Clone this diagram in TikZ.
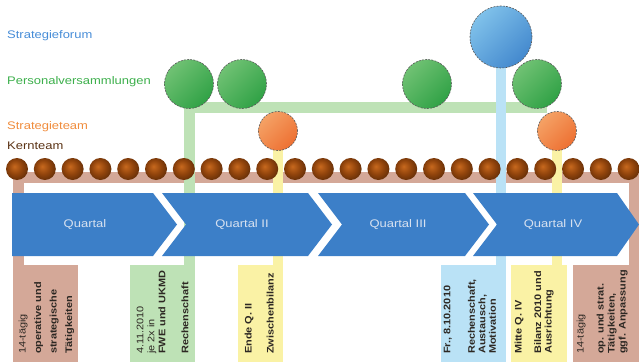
\documentclass[tikz,border=0pt]{standalone}
\usepackage{fontspec}
\setmainfont{Liberation Sans}
\newfontfamily\lblfont{Liberation Sans}[FakeStretch=1.18]
\newfontfamily\boxfont{Liberation Sans}[FakeStretch=1.15]
\usetikzlibrary{backgrounds,shadings}
\definecolor{cforum}{RGB}{70,140,215}
\definecolor{cpers}{RGB}{60,175,75}
\definecolor{cteam}{RGB}{240,140,60}
\definecolor{ckern}{RGB}{90,50,20}
\definecolor{arrowc}{RGB}{60,127,200}
\definecolor{qtext}{RGB}{215,225,240}
\definecolor{sgreen}{RGB}{190,226,182}
\definecolor{sblue}{RGB}{186,226,246}
\definecolor{syellow}{RGB}{250,242,165}
\definecolor{sbrown}{RGB}{212,168,152}
\definecolor{bluelt}{RGB}{140,205,240}
\definecolor{bluedk}{RGB}{55,125,200}
\definecolor{greenlt}{RGB}{125,200,125}
\definecolor{greendk}{RGB}{35,155,60}
\definecolor{orangelt}{RGB}{246,172,112}
\definecolor{orangedk}{RGB}{236,102,40}
\definecolor{kin}{RGB}{200,105,30}
\definecolor{kmid}{RGB}{145,68,12}
\definecolor{kout}{RGB}{55,25,5}
\definecolor{btxt}{RGB}{45,40,35}
\pgfdeclareradialshading{kernball}{\pgfpoint{-6bp}{6bp}}{color(0bp)=(kin); color(16bp)=(kmid); color(42bp)=(kout); color(50bp)=(kout)}
\begin{document}
\begin{tikzpicture}[x=1pt,y=-1pt,
  lbl/.style={font=\lblfont\fontsize{11}{13}\selectfont, anchor=west, inner sep=0, text height=8pt, text depth=2.3pt},
  qlbl/.style={font=\lblfont\fontsize{11}{13}\selectfont, text=qtext, inner sep=0},
  pcirc/.style={circle, draw=black!65, dash pattern=on 2pt off 1.2pt, line width=0.6pt, inner sep=0, shade},
  forum/.style={pcirc, minimum size=62pt, upper left=bluelt, upper right=bluelt!50!bluedk, lower left=bluelt!50!bluedk, lower right=bluedk},
  pers/.style={pcirc, minimum size=49pt, upper left=greenlt, upper right=greenlt!50!greendk, lower left=greenlt!50!greendk, lower right=greendk},
  team/.style={pcirc, minimum size=39pt, upper left=orangelt, upper right=orangelt!50!orangedk, lower left=orangelt!50!orangedk, lower right=orangedk},
  kball/.style={circle, minimum size=22pt, inner sep=0, shading=kernball, shade},
  boxn/.style={anchor=north west, minimum height=97pt, inner sep=0, outer sep=0},
  btext/.style={rotate=90, anchor=north west, inner sep=0, align=left, text=btxt, font=\boxfont\fontsize{9.5}{11}\selectfont},
  strip/.style={line width=#1, line join=miter, line cap=butt},
  quart/.style={fill=arrowc}
]
\useasboundingbox (0,0) rectangle (639,361);

% labels
\node[lbl, text=cforum] (lforum) at (7,36) {Strategieforum};
\node[lbl, text=cpers] (lpers) at (7,82) {Personalversammlungen};
\node[lbl, text=cteam] (lteam) at (7,126.5) {Strategieteam};
\node[lbl, text=ckern] (lkern) at (7,147) {Kernteam};

% bottom boxes
\node[boxn, fill=sbrown, minimum width=65pt] (b1) at (13,265) {};
\node[boxn, fill=sgreen, minimum width=65pt] (b2) at (130,265) {};
\node[boxn, fill=syellow, minimum width=45pt] (b3) at (238,265) {};
\node[boxn, fill=sblue, minimum width=65pt] (b4) at (441,265) {};
\node[boxn, fill=syellow, minimum width=56pt] (b5) at (511,265) {};
\node[boxn, fill=sbrown, minimum width=66pt] (b6) at (573,265) {};

% circles
\node[forum] (sf) at (501,37) {};
\node[pers] (pv1) at (189,84) {};
\node[pers] (pv2) at (242,84) {};
\node[pers] (pv3) at (427,84) {};
\node[pers] (pv4) at (537,84) {};
\node[team] (st1) at (278,131) {};
\node[team] (st2) at (557,131) {};

% kernteam balls
\foreach \i in {0,...,22} \node[kball] (k\i) at ({17+27.8*\i},169) {};

\coordinate (gend) at (547,107);
\coordinate (kl) at (18,177);
\coordinate (kr) at (634,177);

\begin{scope}[on background layer]
  \draw[strip=11pt, sbrown] ([xshift=5pt]b1.north west) -- (kl) -- (kr) -- ([xshift=-5pt]b6.north east);
  \draw[strip=11pt, sgreen] (b2.north -| pv1.center) -- (pv1.center |- gend) -- (gend);
  \draw[strip=10pt, sblue] (sf.center) -- (sf.center |- b4.north);
  \draw[strip=9.5pt, syellow] (st1.center) -- (st1.center |- b3.north);
  \draw[strip=9.5pt, syellow] (st2.center) -- (st2.center |- b5.north);
\end{scope}

% quarter arrows
\fill[quart] (12,193) -- (153,193) -- (177,224.5) -- (153,256) -- (12,256) -- cycle;
\fill[quart] (162,193) -- (308,193) -- (332,224.5) -- (308,256) -- (162,256) -- (186,224.5) -- cycle;
\fill[quart] (318,193) -- (465,193) -- (489,224.5) -- (465,256) -- (318,256) -- (342,224.5) -- cycle;
\fill[quart] (473,193) -- (617,193) -- (639,224.5) -- (617,256) -- (473,256) -- (497,224.5) -- cycle;
\node[qlbl] (q1) at (85,224.5) {Quartal};
\node[qlbl] (q2) at (242,224.5) {Quartal II};
\node[qlbl] (q3) at (398,224.5) {Quartal III};
\node[qlbl] (q4) at (553,224.5) {Quartal IV};

% box texts
\node[btext] (t1) at (18.5,354) {14-tägig\\[4.5pt]\textbf{operative und}\\[4.5pt]\textbf{strategische}\\[4.5pt]\textbf{Tätigkeiten}};
\node[btext] (t2) at (136.5,354) {4.11.2010\\je 2x in\\\textbf{FWE und UKMD}\\[12pt]\textbf{Rechenschaft}};
\node[btext, font=\boxfont\fontsize{9.5}{11}\selectfont\bfseries] (t3) at (244.5,354) {Ende Q. II\\[11pt]Zwischenbilanz};
\node[btext, font=\boxfont\fontsize{9.5}{10.5}\selectfont\bfseries] (t4) at (443.5,354) {Fr., 8.10.2010\\[14pt]Rechenschaft,\\Austausch,\\Motivation};
\node[btext, font=\boxfont\fontsize{9.5}{10.5}\selectfont\bfseries] (t5) at (514.5,354) {Mitte Q. IV\\[9pt]Bilanz 2010 und\\Ausrichtung};
\node[btext] (t6) at (576.5,354) {14-tägig\\[9pt]\textbf{op. und strat.}\\\textbf{Tätigkeiten,}\\\textbf{ggf. Anpassung}};
\end{tikzpicture}
\end{document}
